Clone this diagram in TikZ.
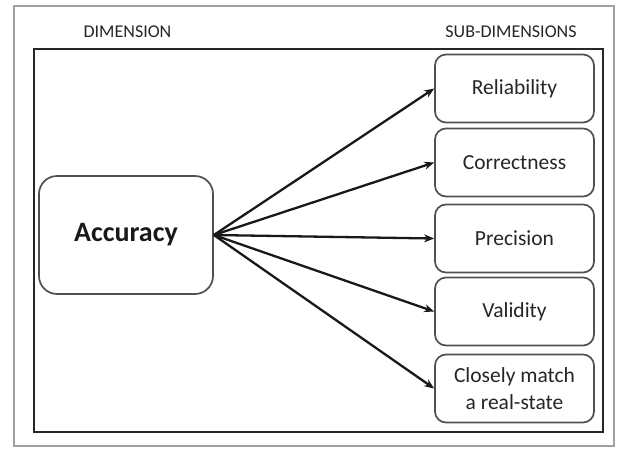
\documentclass[tikz,border=0pt]{standalone}
\usepackage{fontspec}
\setmainfont{Carlito}
\usetikzlibrary{arrows.meta}
\definecolor{txt}{HTML}{262626}
\definecolor{boxline}{HTML}{505050}
\definecolor{outerline}{HTML}{A0A0A0}
\begin{document}
\begin{tikzpicture}[x=1pt,y=-1pt,
  subbox/.style={draw=boxline,line width=1.7pt,rounded corners=11pt,minimum width=159pt,minimum height=68pt,inner sep=0pt,align=center,font=\fontsize{21.5}{27}\selectfont,text=txt},
  mainbox/.style={draw=boxline,line width=1.7pt,rounded corners=18pt,minimum width=174pt,minimum height=118pt,inner sep=0pt,font=\fontsize{28}{32}\selectfont\bfseries,text=black!90},
  heading/.style={font=\fontsize{18}{20}\selectfont,text=txt,inner sep=0pt},
  conn/.style={line width=2.3pt,draw=black!90,-{Stealth[length=10pt,width=8pt]}}]
\useasboundingbox (0,0) rectangle (619,448);
\fill[white] (0,0) rectangle (619,448);
\draw[outerline,line width=1.8pt] (14,6) rectangle (614,446);
\draw[black!85,line width=2.8pt] (34,49) rectangle (603,432);
\node[heading] (hdim) at (127.5,32) {DIMENSION};
\node[heading] (hsub) at (511,32) {SUB-DIMENSIONS};
\node[mainbox] (acc) at (126,235) {Accuracy};
\node[subbox] (rel) at (514.5,88.5) {Reliability};
\node[subbox] (cor) at (514.5,162.5) {Correctness};
\node[subbox] (pre) at (514.5,238.5) {Precision};
\node[subbox] (val) at (514.5,311.5) {Validity};
\node[subbox] (clo) at (514.5,388.5) {Closely match\\a real-state};
\foreach \t in {rel,cor,pre,val,clo}
  \draw[conn] (acc.east) -- (\t.west);
\end{tikzpicture}
\end{document}
